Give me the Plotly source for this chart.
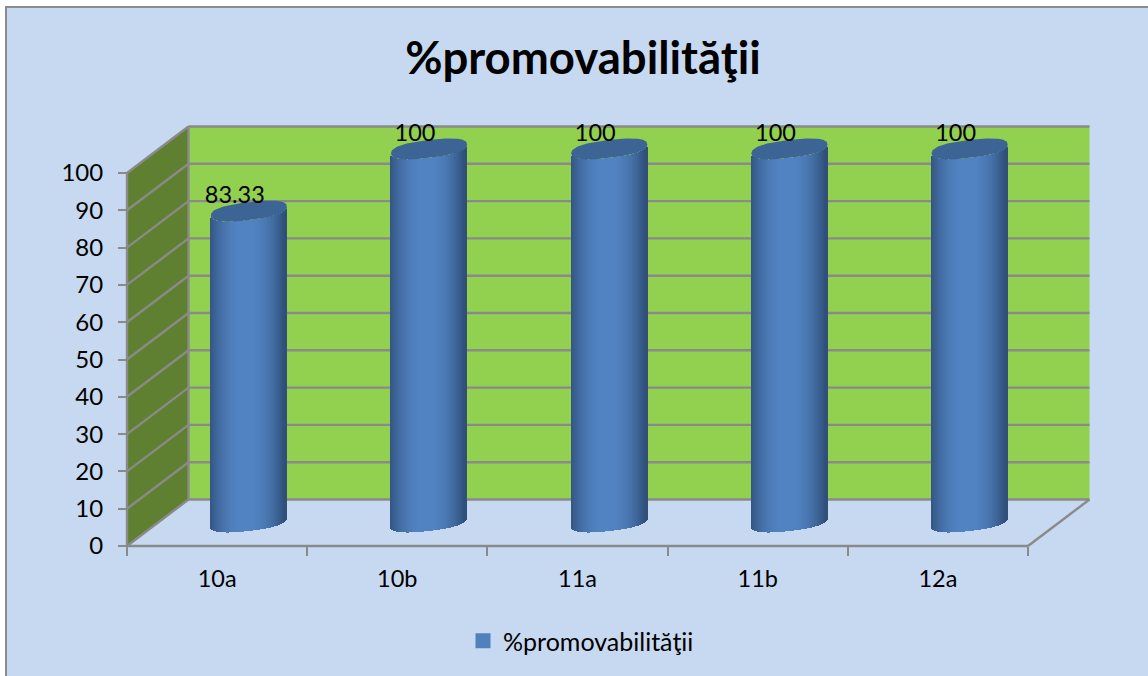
import numpy as np
import plotly.graph_objects as go

categories = ["10a", "10b", "11a", "11b", "12a"]
values = [83.33, 100, 100, 100, 100]
labels = ["83.33", "100", "100", "100", "100"]
y_ticks = [0, 10, 20, 30, 40, 50, 60, 70, 80, 90, 100]
series_name = "%promovabilităţii"

W, H = 1148, 676
X0_PX, Y0_PX = 127, 546
PX_PER_CAT, PX_PER_UNIT = 180.2, 3.73
DX = 61.5 / PX_PER_CAT
DY = 46.5 / PX_PER_UNIT
SHIFT = 1 / PX_PER_CAT
LIFT = 0.8 / PX_PER_UNIT
A = 38 / PX_PER_CAT
B = 9.0 / PX_PER_UNIT
S = 4.4 / PX_PER_UNIT
P = 2.5
N_STRIPS = 76
GRAY = "#8a8a8a"

x_range = [-0.5 - X0_PX / PX_PER_CAT, -0.5 + (W - X0_PX) / PX_PER_CAT]
y_range = [-(H - Y0_PX) / PX_PER_UNIT, Y0_PX / PX_PER_UNIT]
n = len(categories)
xl, xr = -0.5, n - 0.5


def line(x0, y0, x1, y1):
    return dict(type="line", xref="x", yref="y", x0=x0, y0=y0, x1=x1, y1=y1,
                line=dict(color=GRAY, width=2.4), layer="below")


shapes = [
    dict(type="rect", xref="paper", yref="paper", x0=6 / W, x1=1.01, y0=-0.01, y1=1 - 7 / H,
         fillcolor="#c6d9f1", line=dict(color="#8c8c8c", width=2), layer="below"),
    dict(type="path", xref="x", yref="y", layer="below", line=dict(width=0), fillcolor="#92d050",
         path=f"M {xl+DX} {DY} L {xr+DX} {DY} L {xr+DX} {100+DY} L {xl+DX} {100+DY} Z"),
    dict(type="path", xref="x", yref="y", layer="below", line=dict(width=0), fillcolor="#5f8030",
         path=f"M {xl} 0 L {xl+DX} {DY} L {xl+DX} {100+DY} L {xl} 100 Z"),
]
for t in y_ticks:
    shapes.append(line(xl, t, xl + DX, t + DY))
    shapes.append(line(xl + DX, t + DY, xr + DX, t + DY))
shapes += [line(xl, 0, xl, 100), line(xl + DX, DY, xl + DX, 100 + DY), line(xl, 0, xr, 0), line(xr, 0, xr + DX, DY)]

# Cylinder bodies: narrow bars following the lower rim, shaded across the width
u = (np.arange(N_STRIPS) + 0.5) / N_STRIPS * 2 - 1
dark = np.array([48, 80, 122])
mid = np.array([82, 132, 196])
bx, bbase, by, bcol = [], [], [], []
for i, v in enumerate(values):
    for ui in u:
        lower = -B * (1 - abs(ui) ** P) ** (1 / P) + S * ui
        bx.append(i + DX / 2 + SHIFT + A * ui)
        bbase.append(DY / 2 + LIFT + lower)
        by.append(v)
        shade = np.clip(1 - abs(ui + 0.05) ** 2.2, 0, 1)
        c = dark + (mid - dark) * shade
        bcol.append("rgb(%d,%d,%d)" % tuple(c))

fig = go.Figure()
fig.add_trace(go.Bar(x=bx, y=by, base=bbase, width=1.5 / PX_PER_CAT,
                     marker=dict(color=bcol, line=dict(width=0)),
                     showlegend=False, hoverinfo="skip"))

# Cylinder tops
tt = np.linspace(0, 2 * np.pi, 120)
cx = np.sign(np.cos(tt)) * np.abs(np.cos(tt)) ** (2 / P)
sy = np.sign(np.sin(tt)) * np.abs(np.sin(tt)) ** (2 / P)
for i, v in enumerate(values):
    fig.add_trace(go.Scatter(
        x=i + DX / 2 + SHIFT + A * cx,
        y=v + DY / 2 + LIFT + B * sy + S * cx,
        mode="lines", fill="toself", fillcolor="#3c6596",
        line=dict(width=0, color="#3c6596"), showlegend=False, hoverinfo="skip"))

# Data labels
fig.add_trace(go.Scatter(
    x=[i + DX / 2 - 13 / PX_PER_CAT for i in range(n)],
    y=[v + DY / 2 + 15 / PX_PER_UNIT for v in values],
    text=labels, mode="text", textposition="middle center",
    textfont=dict(family="Lato", size=23.5, color="#000000"),
    showlegend=False, cliponaxis=False, hoverinfo="skip"))

# Legend entry
fig.add_trace(go.Scatter(
    x=[None], y=[None], mode="markers", name=series_name,
    marker=dict(symbol="square", size=15, color="#4f81bd")))

fig.update_layout(
    width=W, height=H, autosize=False,
    margin=dict(l=0, r=0, t=0, b=0, pad=0),
    paper_bgcolor="#ffffff", plot_bgcolor="rgba(0,0,0,0)",
    shapes=shapes, barmode="overlay", bargap=0,
    font=dict(family="Lato", size=24, color="#000000"),
    title=dict(text=series_name, x=583 / W, y=1 - 58 / H, xanchor="center", yanchor="middle",
               xref="paper", yref="paper", font=dict(family="Lato", size=45.5, weight="bold", color="#000000")),
    legend=dict(x=463 / W, y=1 - 641 / H, xanchor="left", yanchor="middle",
                bgcolor="rgba(0,0,0,0)", borderwidth=0, itemwidth=30,
                font=dict(family="Lato", size=25), traceorder="normal"),
    xaxis=dict(range=x_range, domain=[0, 1], anchor="free", position=(H - Y0_PX) / H,
               tickmode="array", tickvals=list(range(n)), ticktext=categories,
               ticks="", showgrid=False, zeroline=False, showline=False,
               ticklabelstandoff=16,
               tickfont=dict(family="Lato", size=23.5),
               minor=dict(tickmode="array", tickvals=[i - 0.5 for i in range(n + 1)],
                          ticks="outside", ticklen=9, tickwidth=2, tickcolor=GRAY, showgrid=False)),
    yaxis=dict(range=y_range, domain=[0, 1], anchor="free", position=X0_PX / W,
               tickmode="array", tickvals=y_ticks,
               ticks="outside", ticklen=9, tickwidth=2, tickcolor=GRAY,
               showgrid=False, zeroline=False, showline=False,
               ticklabelstandoff=10, tickfont=dict(family="Lato", size=24)),
)

fig.write_html("out.html", config=dict(displayModeBar=False),
               post_script="document.body.style.margin='0';document.documentElement.style.overflow='hidden';window.dispatchEvent(new Event('resize'));")
